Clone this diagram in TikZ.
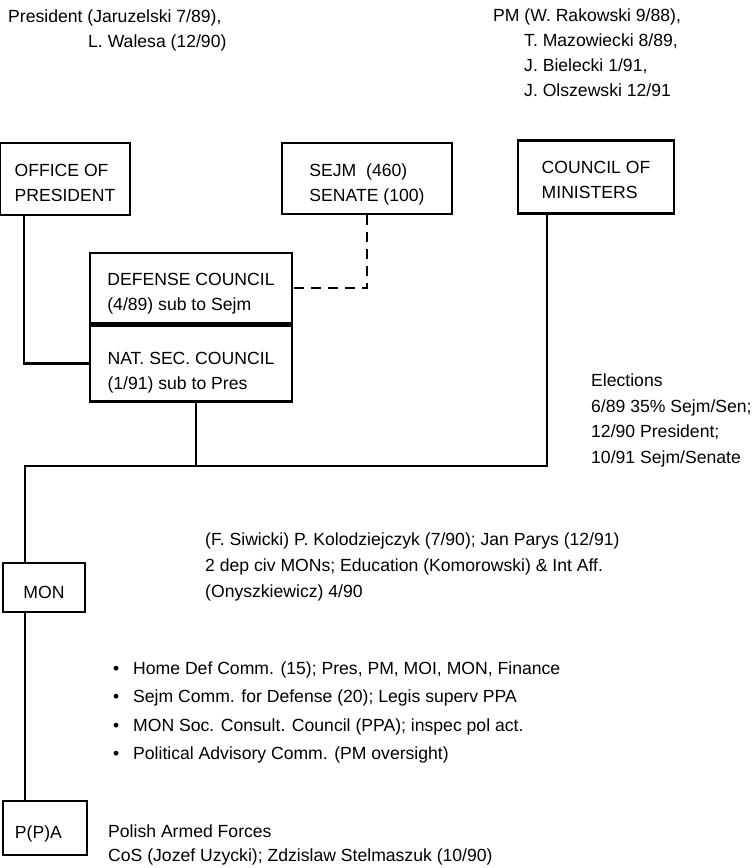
\documentclass[tikz,border=0pt]{standalone}
\usepackage{fontspec}
\setmainfont{Liberation Sans}
\usetikzlibrary{positioning}
\tikzset{
	unit/.style = { draw, line width = 2.5pt, rectangle, align = left, inner sep = 0pt },
	note/.style = { anchor = base west, align = left, inner sep = 0pt },
	link/.style = { line width = 2.5pt },
	dashlink/.style = { line width = 2.5pt, dash pattern = on 10pt off 7pt }
}
\newcommand{\pnt}{\makebox[20pt][l]{\textbullet}}
\begin{document}
\begin{tikzpicture}[x = 1pt, y = -1pt, font = \fontsize{17.6}{25}\selectfont]
		\useasboundingbox ( 0, 0 ) rectangle ( 753, 868 );

		% подписи сверху (якорь - последняя строка)
		\node [note] (pres) at ( 8, 47 ) {President (Jaruzelski 7/89),\\\hspace*{80pt}L. Walesa (12/90)};
		\node [note] (pm) at ( 493, 96 ) {PM (W. Rakowski 9/88),\\\hspace*{31pt}T. Mazowiecki 8/89,\\\hspace*{31pt}J. Bielecki 1/91,\\\hspace*{31pt}J. Olszewski 12/91};

		% блоки верхнего уровня
		\node [unit, minimum width = 130pt, minimum height = 72pt] (office) at ( 65, 179 ) {\rule{0pt}{20pt}OFFICE OF\\PRESIDENT};
		\node [unit, minimum width = 170pt, minimum height = 71pt] (sejm) at ( 367, 178.5 ) {\rule{0pt}{24pt}SEJM\ \ (460)\\SENATE (100)};
		\node [unit, minimum width = 156pt, minimum height = 73pt] (council) at ( 596, 177 ) {\rule{0pt}{19pt}COUNCIL OF\\MINISTERS};

		% советы
		\node [unit, minimum width = 202pt, minimum height = 70pt] (defense) at ( 191, 288 ) {\rule{0pt}{23pt}DEFENSE COUNCIL\\(4/89) sub to Sejm};
		\node [unit, minimum width = 202pt, minimum height = 76pt, below = 0pt of defense] (nsc) {\rule{0pt}{30pt}NAT. SEC. COUNCIL\\(1/91) sub to Pres};

		% выборы
		\node [note, font = \fontsize{17.6}{25.5}\selectfont] (elect) at ( 591, 463 ) {Elections\\6/89 35\% Sejm/Sen;\\12/90 President;\\10/91 Sejm/Senate};

		% МОН
		\node [unit, align = center, minimum width = 82pt, minimum height = 49pt] (mon) at ( 44, 587.5 ) {\rule{0pt}{22pt}MON};
		\node [note, font = \fontsize{17.6}{26}\selectfont] (monnote) at ( 205, 597 ) {(F. Siwicki) P. Kolodziejczyk (7/90); Jan Parys (12/91)\\2 dep civ MONs; Education (Komorowski) \& Int Aff.\\(Onyszkiewicz) 4/90};
		\node [note, font = \fontsize{17.6}{28.5}\selectfont] (comms) at ( 113, 759.5 ) {\pnt Home Def Comm. (15); Pres, PM, MOI, MON, Finance\\\pnt Sejm Comm. for Defense (20); Legis superv PPA\\\pnt MON Soc. Consult. Council (PPA); inspec pol act.\\\pnt Political Advisory Comm. (PM oversight)};

		% армия
		\node [unit, text width = 60pt, inner xsep = 12pt, minimum height = 54pt] (ppa) at ( 45, 828 ) {\rule{0pt}{25pt}P(P)A};
		\node [note, font = \fontsize{17.6}{24}\selectfont] (ppanote) at ( 108, 861 ) {Polish Armed Forces\\CoS (Jozef Uzycki); Zdzislaw Stelmaszuk (10/90)};

		% связи
		\coordinate (busL) at ( 25, 466 );
		\coordinate (officeL) at ([xshift = 25pt]office.south west);
		\coordinate (nscB) at ([xshift = 107pt]nsc.south west);
		\coordinate (councilB) at ([xshift = 30pt]council.south west);
		\draw [link] (officeL) |- (nsc.west);
		\draw [dashlink] (sejm.south) |- (defense.east);
		\draw [link] (nscB) -- (nscB |- busL);
		\draw [link] (councilB) |- (busL) -- (busL |- mon.north);
		\draw [link] (busL |- mon.south) -- (busL |- ppa.north);
	\end{tikzpicture}
\end{document}
